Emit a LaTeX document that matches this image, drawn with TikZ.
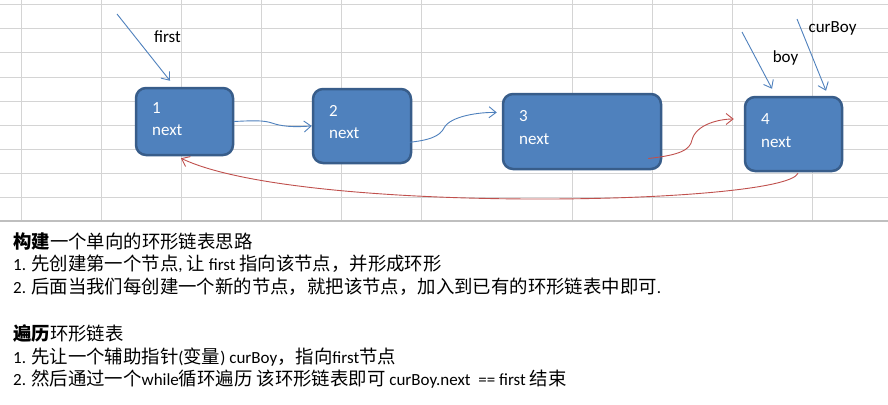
\documentclass[tikz,border=0pt]{standalone}
\usepackage{fontspec}
\setmainfont{Carlito}
\newfontfamily\cjkfont{Noto Sans CJK SC}
\usetikzlibrary{arrows.meta,calc}
\definecolor{boxfill}{HTML}{4F81BD}
\definecolor{boxline}{HTML}{385D8A}
\definecolor{arrblue}{HTML}{4F81BD}
\definecolor{arrred}{HTML}{C0504D}
\definecolor{gridc}{HTML}{D4D4D4}
\definecolor{borderc}{HTML}{BFBFBF}
\newcommand\zh[1]{{\cjkfont\fontsize{18.4}{18}\selectfont #1}}
\begin{document}
\begin{tikzpicture}[x=1pt,y=-1pt,
  gridline/.style={draw=gridc, line width=1pt},
  listbox/.style={draw=boxline, fill=boxfill, line width=2.5pt, rounded corners=10pt, inner sep=0pt},
  boxtxt/.style={text=white, font=\fontsize{17}{20}\selectfont, anchor=base west, inner sep=0pt},
  lbl/.style={text=black, font=\fontsize{17}{20}\selectfont, anchor=base, inner sep=0pt},
  ptrblue/.style={draw=arrblue, line width=0.9pt, -{Straight Barb[length=7pt,width=11pt]}},
  ptrred/.style={draw=arrred, line width=0.9pt, -{Straight Barb[length=7pt,width=11pt]}},
  note/.style={text=black, font=\fontsize{17}{18}\selectfont, anchor=base west, inner sep=0pt}
]
\useasboundingbox (0,0) rectangle (888,404);
\fill[white] (0,0) rectangle (888,404);
% grid
\foreach \gx in {21,101,181,261,341,421,572,652,732,812}
  \draw[gridline] (\gx,0) -- (\gx,221);
\foreach \gy in {5,29,53,77,101,125,149,173,197}
  \draw[gridline] (0,\gy) -- (888,\gy);
\draw[draw=borderc, line width=2pt] (0,221) -- (888,221);

% boxes
\node[listbox, minimum width=97pt, minimum height=67pt] (b1) at (184.5,121.5) {};
\node[listbox, minimum width=98pt, minimum height=74pt] (b2) at (362,126) {};
\node[listbox, minimum width=158pt, minimum height=75pt] (b3) at (582,131.5) {};
\node[listbox, minimum width=97pt, minimum height=74pt] (b4) at (793.5,134) {};

\node[boxtxt] (t1a) at (152,113) {1};
\node[boxtxt] (t1b) at (152,135) {next};
\node[boxtxt] (t2a) at (329,116) {2};
\node[boxtxt] (t2b) at (329,138) {next};
\node[boxtxt] (t3a) at (519,121) {3};
\node[boxtxt] (t3b) at (519,144) {next};
\node[boxtxt] (t4a) at (761,124) {4};
\node[boxtxt] (t4b) at (761,147) {next};

% pointer labels
\node[lbl] (lfirst) at (167.5,42) {first};
\node[lbl] (lboy) at (785.5,63) {boy};
\node[lbl] (lcur) at (832.5,33) {curBoy};

% pointer arrows
\coordinate (pf) at (117,14);
\coordinate (pb) at (742,32);
\coordinate (pc) at (797,19);
\draw[ptrblue] (pf) -- ($(b1.north)+(-14.5,-6)$);
\draw[ptrblue] (pb) -- ($(b4.north)+(-21.5,-7)$);
\draw[ptrblue] (pc) -- ($(b4.north)+(32.5,-5)$);

% next links
\draw[ptrblue] (b1.east) .. controls (262,120) and (266,121) .. (275,124)
  .. controls (286,127) and (296,127) .. (b2.west);
\draw[ptrblue] ($(b2.east)+(-11,17)$) .. controls (430,141) and (440,136) .. (444,128)
  .. controls (450,116) and (480,112) .. ($(b3.west)+(-5,-19)$);
\draw[ptrred] ($(b3.east)+(-14,27)$) .. controls (680,155) and (690,150) .. (692,140)
  .. controls (696,124) and (720,119) .. ($(b4.west)+(-10,-15)$);
\draw[ptrred] ($(b4.south)+(4.5,1)$) .. controls (785,205) and (300,215) .. ($(b1.south)+(-3.5,2)$);

% notes
\node[note] (n1) at (13,248) {\zh{\textbf{构建}一个单向的环形链表思路}};
\node[note] (n2) at (13,270) {1. \zh{先创建第一个节点}, \zh{让} first \zh{指向该节点，并形成环形}};
\node[note] (n3) at (13,293) {2. \zh{后面当我们每创建一个新的节点，就把该节点，加入到已有的环形链表中即可}.};
\node[note] (n5) at (13,340) {\zh{\textbf{遍历}环形链表}};
\node[note] (n6) at (13,363) {1. \zh{先让一个辅助指针}(\zh{变量}) curBoy\zh{，指向}first\zh{节点}};
\node[note] (n7) at (13,385) {2. \zh{然后通过一个}while\zh{循环遍历 该环形链表即可} curBoy.next\ \ == first \zh{结束}};
\end{tikzpicture}
\end{document}
